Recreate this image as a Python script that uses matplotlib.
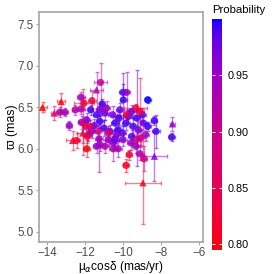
import numpy as np
import matplotlib
matplotlib.use("Agg")
import matplotlib.pyplot as plt
from matplotlib.colors import ListedColormap

plt.rcParams['font.family'] = ['Liberation Sans', 'DejaVu Sans']

# proper motion in RA (mas/yr), parallax (mas), their errors, membership probability, marker
pmra = [-14.23, -13.25, -13.61, -13.32, -13.05, -12.82, -12.65, -12.44, -12.21, -12.21,
        -12.51, -12.12, -11.91, -11.63, -11.39, -11.18, -12.18, -11.95, -12.05, -12.10,
        -11.70, -11.09, -10.96, -11.39, -11.21, -11.51, -11.00, -10.68, -10.42, -10.54,
        -10.21, -10.25, -10.02, -9.84, -9.72, -9.54, -9.46, -9.28, -9.19, -8.98,
        -8.93, -11.91, -10.00, -9.81, -9.98, -8.70, -8.35, -8.70, -8.26, -7.40,
        -7.44, -8.35, -8.95, -8.89, -9.84, -9.67, -9.32, -9.81, -8.81, -9.05,
        -9.10, -11.25, -10.51, -10.25, -11.21, -11.39, -10.95, -10.51, -10.00, -9.58,
        -9.32, -9.11, -10.33, -10.77, -11.65, -11.82, -11.88, -10.77, -11.30, -11.74,
        -9.28, -11.21, -10.86, -9.54, -10.42, -10.16]
plx = [6.50, 6.57, 6.43, 6.44, 6.44, 6.28, 6.10, 6.10, 6.62, 6.48,
       6.47, 6.19, 6.00, 6.58, 6.71, 6.80, 6.32, 6.27, 6.55, 6.32,
       6.47, 6.54, 6.43, 6.41, 6.33, 6.28, 6.25, 6.21, 6.31, 6.41,
       6.37, 6.23, 6.19, 6.31, 6.39, 6.45, 6.27, 6.37, 6.23, 6.41,
       6.31, 6.35, 6.68, 6.68, 6.59, 6.59, 6.34, 6.27, 6.21, 6.30,
       6.14, 5.91, 5.59, 5.88, 5.80, 5.93, 6.49, 6.41, 6.17, 6.13,
       6.45, 6.12, 6.00, 6.00, 6.05, 6.03, 6.03, 6.07, 6.11, 6.07,
       6.03, 5.94, 6.17, 6.11, 6.21, 6.17, 6.15, 6.19, 6.21, 6.27,
       6.11, 6.47, 6.49, 6.15, 6.11, 6.47]
pmra_err = [0.25, 0.20, 0.20, 0.20, 0.15, 0.15, 0.35, 0.20, 0.20, 0.20,
            0.15, 0.30, 0.20, 0.20, 0.35, 0.35, 0.20, 0.20, 0.55, 0.25,
            0.15, 0.15, 0.20, 0.20, 0.20, 0.20, 0.20, 0.20, 0.20, 0.25,
            0.20, 0.20, 0.20, 0.20, 0.20, 0.25, 0.20, 0.20, 0.20, 0.20,
            0.20, 0.20, 0.20, 0.20, 0.20, 0.15, 0.15, 0.15, 0.20, 0.15,
            0.15, 0.65, 0.95, 0.15, 0.15, 0.15, 0.60, 0.50, 0.20, 0.20,
            0.20, 0.20, 0.20, 0.20, 0.20, 0.20, 0.20, 0.20, 0.20, 0.20,
            0.20, 0.20, 0.20, 0.20, 0.20, 0.20, 0.20, 0.20, 0.20, 0.20,
            0.20, 0.20, 0.20, 0.20, 0.20, 0.20]
plx_err = [0.06, 0.10, 0.08, 0.06, 0.05, 0.05, 0.12, 0.09, 0.06, 0.06,
           0.06, 0.12, 0.10, 0.12, 0.22, 0.24, 0.08, 0.10, 0.08, 0.40,
           0.06, 0.06, 0.08, 0.07, 0.08, 0.08, 0.10, 0.08, 0.08, 0.10,
           0.08, 0.10, 0.08, 0.08, 0.08, 0.08, 0.10, 0.58, 0.10, 0.08,
           0.08, 0.08, 0.10, 0.25, 0.32, 0.04, 0.05, 0.05, 0.20, 0.08,
           0.05, 0.30, 0.50, 0.15, 0.08, 0.06, 0.05, 0.06, 0.08, 0.10,
           0.40, 0.40, 0.15, 0.10, 0.08, 0.08, 0.08, 0.08, 0.08, 0.08,
           0.08, 0.08, 0.08, 0.08, 0.08, 0.08, 0.08, 0.08, 0.08, 0.08,
           0.08, 0.08, 0.08, 0.08, 0.08, 0.08]
prob = [0.795, 0.81, 0.86, 0.93, 0.94, 0.95, 0.82, 0.82, 0.94, 0.93,
        0.93, 0.82, 0.80, 0.83, 0.93, 0.91, 0.95, 0.88, 0.82, 0.83,
        0.99, 0.99, 0.98, 0.99, 0.99, 0.98, 0.99, 0.98, 0.99, 0.97,
        0.99, 0.99, 0.98, 0.99, 0.99, 0.98, 0.99, 0.99, 0.97, 0.98,
        0.98, 0.97, 0.99, 0.95, 0.99, 1.00, 0.99, 0.99, 0.99, 0.95,
        0.99, 0.96, 0.81, 0.89, 0.81, 0.82, 0.83, 0.84, 0.95, 0.90,
        0.83, 0.95, 0.93, 0.94, 0.94, 0.95, 0.93, 0.95, 0.96, 0.95,
        0.94, 0.93, 0.96, 0.95, 0.94, 0.93, 0.84, 0.86, 0.89, 0.85,
        0.88, 0.96, 0.95, 0.98, 0.98, 0.98]
marker = ['^', '^', '^', 'o', 'o', 'o', '^', 'o', 'o', 'o',
          'o', '^', 'o', 'o', '^', 'o', 'o', 'o', 'o', '^',
          'o', 'o', 'o', 'o', 'o', 'o', 'o', 'o', 'o', 'o',
          'o', 'o', 'o', 'o', 'o', 'o', 'o', 'o', 'o', 'o',
          'o', 'o', 'o', 'o', 'o', 'o', 'o', 'o', 'o', '^',
          'o', '^', '^', 'o', 'o', 'o', 'o', 'o', 'o', 'o',
          'o', 'o', 'o', 'o', 'o', 'o', 'o', 'o', 'o', 'o',
          'o', 'o', 'o', 'o', 'o', 'o', 'o', 'o', 'o', 'o',
          'o', 'o', 'o', 'o', 'o', 'o']


def lab_to_rgb(L, a, b):
    fy = (L + 16.) / 116.
    fx = fy + a / 500.
    fz = fy - b / 200.
    def finv(t):
        return np.where(t > 6. / 29, t ** 3, 3 * (6. / 29) ** 2 * (t - 4. / 29))
    xyz = np.stack([0.95047 * finv(fx), finv(fy), 1.08883 * finv(fz)])
    m = np.array([[3.2406, -1.5372, -0.4986],
                  [-0.9689, 1.8758, 0.0415],
                  [0.0557, -0.2040, 1.0570]])
    lin = np.clip(m @ xyz, 0, 1)
    rgb = np.where(lin > 0.0031308, 1.055 * lin ** (1 / 2.4) - 0.055, 12.92 * lin)
    return np.clip(rgb.T, 0, 1)


# red -> blue gradient interpolated in Lab, like ggplot
t = np.linspace(0, 1, 256)
lab_red = np.array([53.24, 80.09, 67.20])
lab_blue = np.array([32.30, 79.19, -107.86])
lab = lab_red[:, None] * (1 - t) + lab_blue[:, None] * t
cmap = ListedColormap(lab_to_rgb(lab[0], lab[1], lab[2]))
vmin, vmax = min(prob), max(prob)
norm = plt.Normalize(vmin, vmax)

fig = plt.figure(figsize=(2.74, 2.74), dpi=100)
ax = fig.add_axes([0.142, 0.118, 0.599, 0.837])

for i in range(len(pmra)):
    col = cmap(norm(prob[i]))
    ax.errorbar(pmra[i], plx[i], xerr=pmra_err[i], yerr=plx_err[i], fmt='none',
                ecolor=col, alpha=0.5, elinewidth=1.0, capsize=1.5, capthick=1.0, zorder=2)

pmra = np.array(pmra)
plx = np.array(plx)
prob = np.array(prob)
marker = np.array(marker)
for m in ['o', '^']:
    sel = marker == m
    ax.scatter(pmra[sel], plx[sel], c=prob[sel], cmap=cmap, norm=norm, marker=m,
               s=27, alpha=0.85, linewidths=0, zorder=3)

ax.set_xlim(-14.42, -5.79)
ax.set_ylim(4.88, 7.645)
ax.set_xticks([-14, -12, -10, -8, -6])
ax.set_xticklabels(['\u221214', '\u221212', '\u221210', '\u22128', '\u22126'])
ax.set_yticks([5.0, 5.5, 6.0, 6.5, 7.0, 7.5])
ax.set_yticklabels(['5.0', '5.5', '6.0', '6.5', '7.0', '7.5'])
for s in ax.spines.values():
    s.set_color('#a6a6a6')
    s.set_linewidth(1.2)
ax.tick_params(colors='#4d4d4d', labelsize=8.4, length=2.5, width=0.8, pad=1.5)
ax.tick_params(axis='x', pad=1)
ax.tick_params(axis='both', color='#a6a6a6')
ax.set_xlabel(r'μ$_\alpha$cosδ (mas/yr)', fontsize=8.6)
ax.set_ylabel('ϖ (mas)', fontsize=8.8)
ax.xaxis.set_label_coords(0.5, -0.074)
ax.yaxis.set_label_coords(-0.125, 0.5)

cax = fig.add_axes([0.774, 0.088, 0.0365, 0.843])
sm = plt.cm.ScalarMappable(cmap=cmap, norm=norm)
cb = fig.colorbar(sm, cax=cax)
cb.outline.set_visible(False)
cb.set_ticks([0.80, 0.85, 0.90, 0.95])
cb.set_ticklabels(['0.80', '0.85', '0.90', '0.95'])
cax.tick_params(axis='y', left=True, right=True, direction='in', color='white',
                length=2, width=0.6, labelsize=7.8, pad=4, labelcolor='black')
fig.text(0.774, 0.965, 'Probability', fontsize=8.2, ha='left', va='center')

fig.savefig('out.png', dpi=100)
